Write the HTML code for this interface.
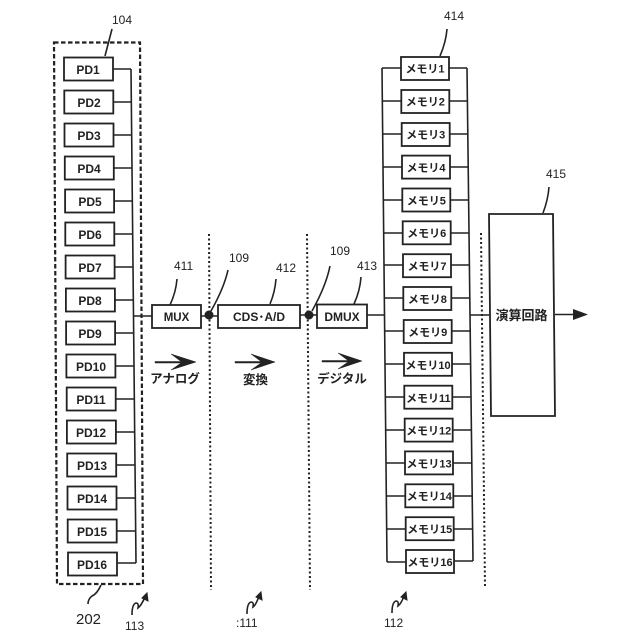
<!DOCTYPE html>
<html><head><meta charset="utf-8"><style>
html,body{margin:0;padding:0;background:#fff}
svg{display:block}
text{font-family:"Liberation Sans","Noto Sans CJK JP",sans-serif;fill:#222}
.b{fill:#fff;stroke:#222;stroke-width:1.8}
.l{fill:none;stroke:#222;stroke-width:1.6}
.n{font-size:12px}
.p{font-size:12px;font-weight:bold;text-anchor:middle}
.m{font-size:11px;font-weight:bold;text-anchor:middle}
.j{font-size:12.500px;font-weight:bold;text-anchor:middle}
.d{fill:none;stroke:#222;stroke-width:2.200;stroke-dasharray:4.500 2.500}
.o{fill:none;stroke:#222;stroke-width:2;stroke-dasharray:2 2.500}
</style></head><body>
<svg width="640" height="640" viewBox="0 0 640 640" xmlns="http://www.w3.org/2000/svg">
<rect width="640" height="640" fill="#fff"/>
<path class="d" d="M54 42.500H140L143 584H57Z"/>
<path class="o" d="M209 234L211 590M307 234L310 590M481 233L485 587"/>
<path class="l" d="M131 69L136 563M382 68L387 562M467 68L473 561"/>
<path class="l" d="M113 69H131M113.300 102H131.300M113.500 135H131.700M113.800 168H132M114.100 201H132.300M114.300 234H132.700M114.600 267H133M114.900 300H133.300M115.100 333H133.700M115.400 366H134M115.700 399H134.300M115.900 432H134.700M116.200 465H135M116.500 498H135.300M116.700 531H135.700M117 563H136"/>
<path class="l" d="M382 68H401M382.300 101H401.300M382.700 134H401.700M383 167H402M383.300 200H402.300M383.700 233H402.700M384 265H403M384.300 298H403.300M384.700 331H403.700M385 364H404M385.300 397H404.300M385.700 430H404.700M386 463H405M386.300 496H405.300M386.700 529H405.700M387 562H406"/>
<path class="l" d="M449 68H467M449.300 101H467.400M449.700 134H467.800M450 167H468.200M450.300 200H468.600M450.700 233H469M451 265H469.400M451.300 298H469.800M451.700 331H470.200M452 364H470.600M452.300 397H471M452.700 430H471.400M453 463H471.800M453.300 496H472.200M453.700 529H472.600M454 561H473"/>
<path class="l" d="M133.500 316H152M201 316H218M300 315H317M367 315H385M470 315H489M555 314.500H574"/>
<path d="M573 309L588 314.500L573 320Z" fill="#222"/>
<rect class="b" x="64" y="57.500" width="49" height="23"/><text class="p" x="88" y="74">PD1</text>
<rect class="b" x="64.300" y="90.500" width="49" height="23"/><text class="p" x="89" y="107">PD2</text>
<rect class="b" x="64.500" y="123.500" width="49" height="23"/><text class="p" x="89" y="140">PD3</text>
<rect class="b" x="64.800" y="156.500" width="49" height="23"/><text class="p" x="89" y="173">PD4</text>
<rect class="b" x="65.100" y="189.500" width="49" height="23"/><text class="p" x="90" y="206">PD5</text>
<rect class="b" x="65.300" y="222.500" width="49" height="23"/><text class="p" x="90" y="239">PD6</text>
<rect class="b" x="65.600" y="255.500" width="49" height="23"/><text class="p" x="90" y="272">PD7</text>
<rect class="b" x="65.900" y="288.500" width="49" height="23"/><text class="p" x="90" y="305">PD8</text>
<rect class="b" x="66.100" y="321.500" width="49" height="23"/><text class="p" x="90" y="338">PD9</text>
<rect class="b" x="66.400" y="354.500" width="49" height="23"/><text class="p" x="91" y="371">PD10</text>
<rect class="b" x="66.700" y="387.500" width="49" height="23"/><text class="p" x="91" y="404">PD11</text>
<rect class="b" x="66.900" y="420.500" width="49" height="23"/><text class="p" x="91" y="437">PD12</text>
<rect class="b" x="67.200" y="453.500" width="49" height="23"/><text class="p" x="92" y="470">PD13</text>
<rect class="b" x="67.500" y="486.500" width="49" height="23"/><text class="p" x="92" y="503">PD14</text>
<rect class="b" x="67.700" y="519.500" width="49" height="23"/><text class="p" x="92" y="536">PD15</text>
<rect class="b" x="68" y="552.500" width="49" height="23"/><text class="p" x="92" y="569">PD16</text>
<rect class="b" x="401" y="57" width="48" height="23"/><text class="m" x="425" y="72.500">メモリ1</text>
<rect class="b" x="401.300" y="90" width="48" height="23"/><text class="m" x="425.300" y="105.500">メモリ2</text>
<rect class="b" x="401.700" y="123" width="48" height="23"/><text class="m" x="425.700" y="138.500">メモリ3</text>
<rect class="b" x="402" y="155.600" width="48" height="23"/><text class="m" x="426" y="171.500">メモリ4</text>
<rect class="b" x="402.300" y="188.500" width="48" height="23"/><text class="m" x="426.300" y="204.500">メモリ5</text>
<rect class="b" x="402.700" y="221.300" width="48" height="23"/><text class="m" x="426.700" y="237">メモリ6</text>
<rect class="b" x="403" y="254.200" width="48" height="23"/><text class="m" x="427" y="270">メモリ7</text>
<rect class="b" x="403.300" y="287" width="48" height="23"/><text class="m" x="427.300" y="303">メモリ8</text>
<rect class="b" x="403.700" y="320" width="48" height="23"/><text class="m" x="427.700" y="336">メモリ9</text>
<rect class="b" x="404" y="352.800" width="48" height="23"/><text class="m" x="428" y="369">メモリ10</text>
<rect class="b" x="404.300" y="385.700" width="48" height="23"/><text class="m" x="428.300" y="402">メモリ11</text>
<rect class="b" x="404.700" y="418.600" width="48" height="23"/><text class="m" x="428.700" y="434.500">メモリ12</text>
<rect class="b" x="405" y="451.400" width="48" height="23"/><text class="m" x="429" y="467.500">メモリ13</text>
<rect class="b" x="405.300" y="484.300" width="48" height="23"/><text class="m" x="429.300" y="500">メモリ14</text>
<rect class="b" x="405.700" y="517.200" width="48" height="23"/><text class="m" x="429.700" y="533">メモリ15</text>
<rect class="b" x="406" y="550" width="48" height="23"/><text class="m" x="430" y="566">メモリ16</text>
<rect class="b" x="152" y="305" width="49" height="23"/><text class="p" x="176.500" y="321" style="font-size:11.500px">MUX</text>
<rect class="b" x="218" y="305" width="82" height="23"/><text class="p" x="259" y="321" style="font-size:12px">CDS･A/D</text>
<rect class="b" x="317" y="304.500" width="50" height="23.500"/><text class="p" x="342" y="321" style="font-size:12px">DMUX</text>
<path class="b" d="M489 214H553L555 416H491Z"/>
<text x="521.500" y="320" style="font-size:13px;font-weight:bold;text-anchor:middle">演算回路</text>
<circle cx="209" cy="315" r="4.500" fill="#222"/><circle cx="309" cy="315" r="4.500" fill="#222"/>
<path class="l" d="M112 29L105 56M177 279Q176 292 170 305M228 270Q224 288 211 311M276 279Q275 292 270 304M330 266Q326 286 312 311M361 277Q360 291 354 304M447 29Q446 42 440 56M549 187Q548 200 543 213M101 585Q97 594 92 596Q88 599 88 604"/>
<text class="n" x="112" y="24">104</text>
<text class="n" x="174" y="270">411</text>
<text class="n" x="229" y="262">109</text>
<text class="n" x="276" y="272">412</text>
<text class="n" x="330" y="255">109</text>
<text class="n" x="357" y="270">413</text>
<text class="n" x="444" y="20">414</text>
<text class="n" x="546" y="178">415</text>
<text x="76" y="624" style="font-size:15px">202</text>
<text class="n" x="125" y="630">113</text>
<text class="n" x="236" y="627">:111</text>
<text class="n" x="384" y="627">112</text>
<path d="M155 361.500H181L171 354L196 362L171 370L181 363H155Z" fill="#222" stroke="#222" stroke-width=".5"/>
<path d="M235 361.500H261L251 354L275 362L251 370L261 363H235Z" fill="#222" stroke="#222" stroke-width=".5"/>
<path d="M322 360.500H348L338 353L362 361L338 369L348 362H322Z" fill="#222" stroke="#222" stroke-width=".5"/>
<text class="j" x="175" y="383">アナログ</text>
<text class="j" x="255.500" y="384">変換</text>
<text class="j" x="342" y="383">デジタル</text>
<path class="l" d="M132 615Q132 604 136 603Q139 603 138 608Q141 606 145 597"/>
<path d="M142 598L147 593L148 601Z" fill="#222" stroke="#222"/>
<path class="l" d="M247 614Q247 603 251 602Q254 602 253 607Q256 605 259 596"/>
<path d="M256 597L261 592L262 600Z" fill="#222" stroke="#222"/>
<path class="l" d="M392 613Q392 602 396 601Q399 601 398 606Q401 604 404 596"/>
<path d="M401 597L406 592L407 600Z" fill="#222" stroke="#222"/>
</svg>
</body></html>
